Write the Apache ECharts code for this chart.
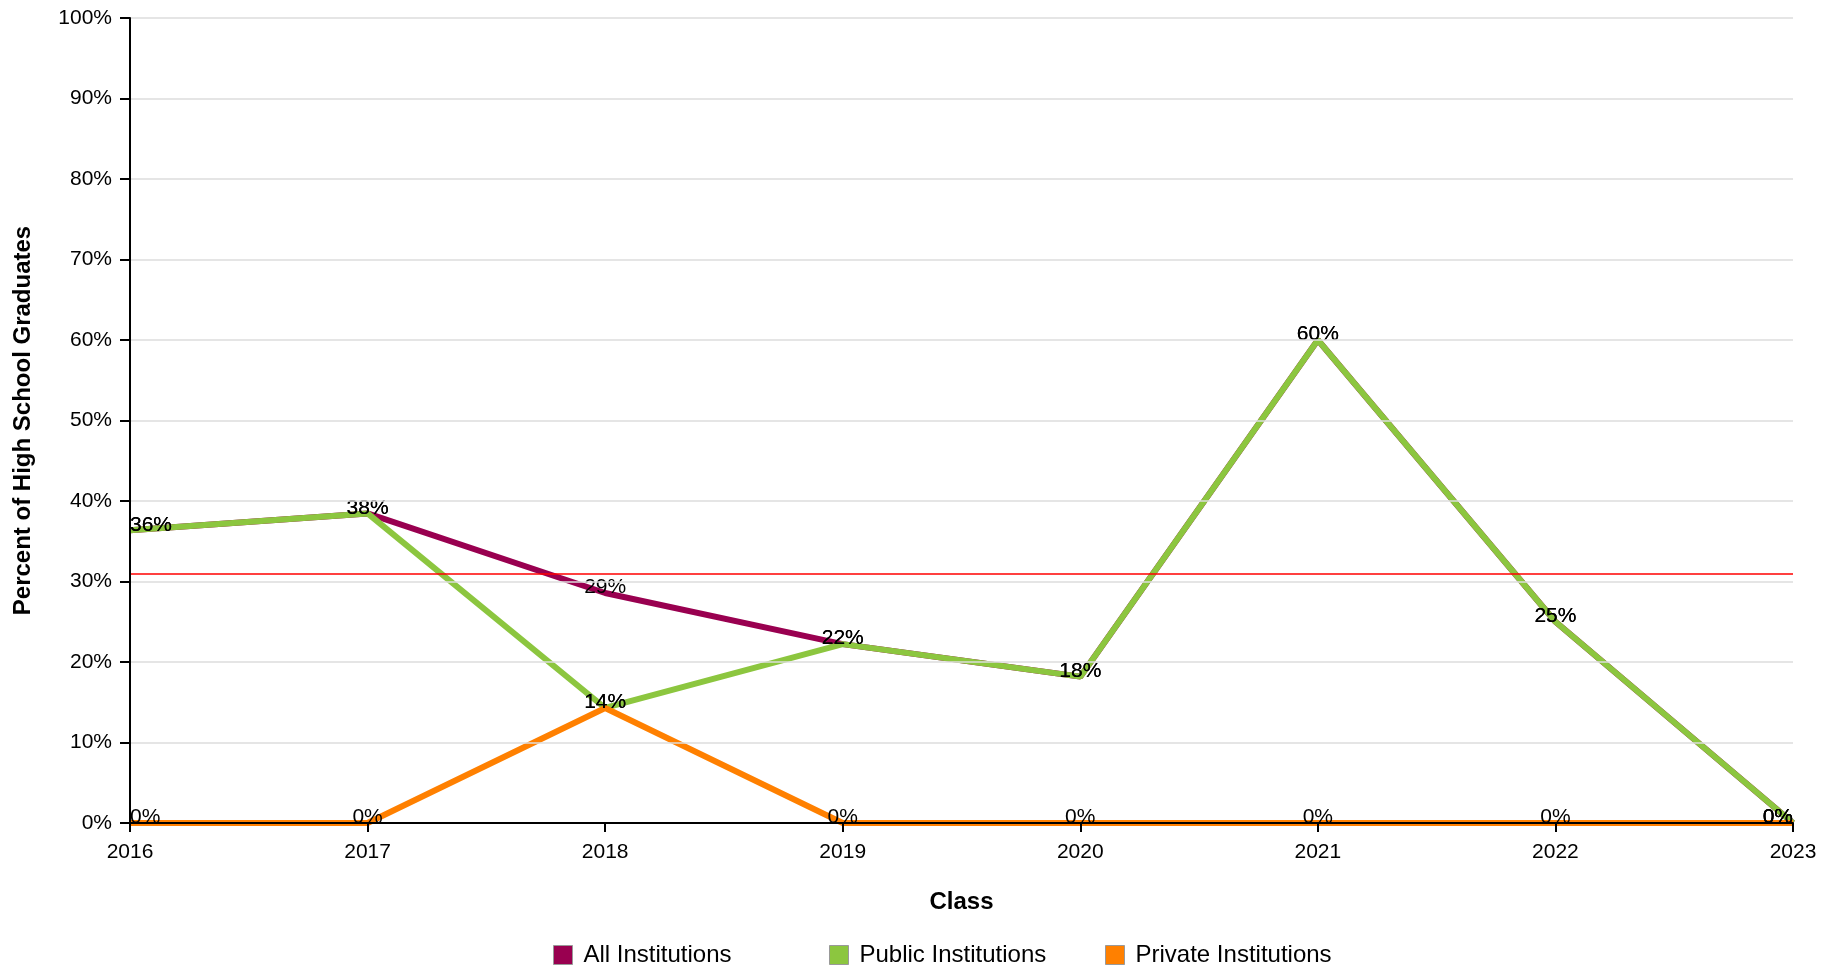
<!DOCTYPE html>
<html>
<head>
<meta charset="utf-8">
<script src="https://cdn.jsdelivr.net/npm/echarts@6/dist/echarts.min.js"></script>
<style>
html,body{margin:0;padding:0;background:#fff;}
#chart{width:1839px;height:971px;}
</style>
</head>
<body>
<div id="chart"></div>
<script>
var categories = ['2016','2017','2018','2019','2020','2021','2022','2023'];
var allInstitutions = [36.36, 38.46, 28.57, 22.22, 18.18, 60, 25, 0];
var publicInstitutions = [36.36, 38.46, 14.29, 22.22, 18.18, 60, 25, 0];
var privateInstitutions = [0, 0, 14.29, 0, 0, 0, 0, 0];
var referenceValue = [31];
var seriesNames = ['All Institutions', 'Public Institutions', 'Private Institutions'];
var seriesColors = ['#990050', '#8cc63f', '#ff8000'];

var FONT = '"Liberation Sans", Arial, Helvetica, sans-serif';

function buildData(arr) {
  return arr.map(function (v, i) {
    var item = { value: v };
    if (i === 0) item.label = { align: 'left' };
    if (i === arr.length - 1) item.label = { align: 'right' };
    return item;
  });
}

function makeSeries(name, arr, color, extra) {
  var s = {
    name: name,
    type: 'line',
    data: buildData(arr),
    showSymbol: true,
    symbol: 'circle',
    symbolSize: 0.01,
    color: color,
    lineStyle: { color: color, width: 6 },
    itemStyle: { color: color },
    label: {
      show: true,
      position: 'top',
      distance: -5,
      color: '#000',
      fontSize: 21,
      fontFamily: FONT,
      textBorderWidth: 0,
      textBorderColor: 'transparent',
      textShadowBlur: 0,
      formatter: function (p) { return Math.round(p.value) + '%'; }
    },
    labelLayout: { hideOverlap: false },
    emphasis: { disabled: true },
    animation: false
  };
  if (extra) for (var k in extra) s[k] = extra[k];
  return s;
}

function makeLegend(name, left) {
  return {
    data: [name],
    left: left,
    top: 943,
    padding: 0,
    icon: 'rect',
    itemWidth: 19,
    itemHeight: 19,
    itemStyle: { borderColor: '#999', borderWidth: 1 },
    textStyle: { fontSize: 24, color: '#000', fontFamily: FONT, padding: [0, 0, 0, 6] },
    selectedMode: false
  };
}

var chart = echarts.init(document.getElementById('chart'));
chart.setOption({
  backgroundColor: '#fff',
  animation: false,
  textStyle: { fontFamily: FONT },
  grid: { left: 130, right: 46, top: 18, bottom: 148, containLabel: false },
  legend: [
    makeLegend(seriesNames[0], 553),
    makeLegend(seriesNames[1], 829),
    makeLegend(seriesNames[2], 1105)
  ],
  xAxis: {
    type: 'category',
    data: categories,
    boundaryGap: false,
    z: 10,
    name: 'Class',
    nameLocation: 'middle',
    nameGap: 67,
    nameTextStyle: { fontSize: 24, fontWeight: 'bold', color: '#000', fontFamily: FONT },
    axisLine: { show: true, lineStyle: { color: '#000', width: 2 } },
    axisTick: { show: true, length: 9, lineStyle: { color: '#000', width: 2 } },
    axisLabel: { fontSize: 21, color: '#000', margin: 19, fontFamily: FONT },
    splitLine: { show: false }
  },
  yAxis: {
    type: 'value',
    min: 0,
    max: 100,
    interval: 10,
    z: 10,
    name: 'Percent of High School Graduates',
    nameLocation: 'middle',
    nameGap: 95,
    nameTextStyle: { fontSize: 24, fontWeight: 'bold', color: '#000', fontFamily: FONT },
    axisLine: { show: true, lineStyle: { color: '#000', width: 2 } },
    axisTick: { show: true, length: 10, lineStyle: { color: '#000', width: 2 } },
    axisLabel: { fontSize: 21, color: '#000', margin: 18, fontFamily: FONT, formatter: '{value}%' },
    splitLine: { show: true, lineStyle: { color: '#dcdcdc', width: 1.5 } }
  },
  series: [
    makeSeries(seriesNames[0], allInstitutions, seriesColors[0], {
      markLine: {
        silent: true,
        symbol: 'none',
        label: { show: false },
        lineStyle: { color: '#ff0000', width: 1.5, type: 'solid' },
        data: referenceValue.map(function (v) { return { yAxis: v }; })
      }
    }),
    makeSeries(seriesNames[1], publicInstitutions, seriesColors[1]),
    makeSeries(seriesNames[2], privateInstitutions, seriesColors[2])
  ]
});
</script>
</body>
</html>
